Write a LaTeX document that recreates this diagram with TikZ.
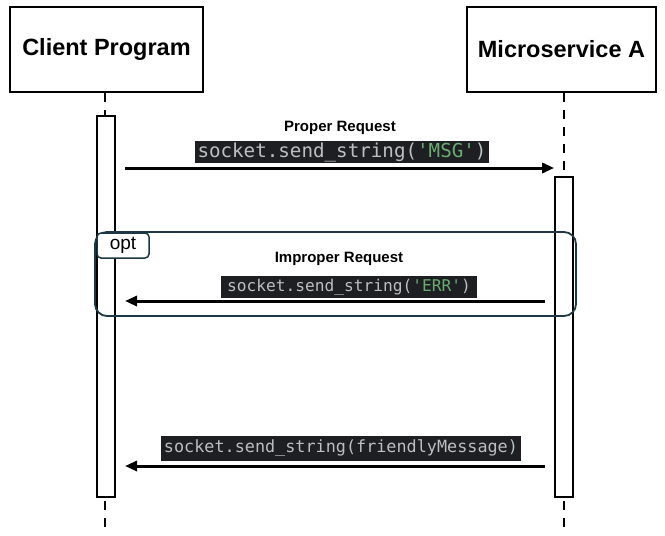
\documentclass[tikz,border=0pt]{standalone}
\usepackage{fontspec}
\setmainfont{Liberation Sans}
\setmonofont{DejaVu Sans Mono}
\usetikzlibrary{arrows.meta}
\definecolor{codebg}{HTML}{1E1F22}
\definecolor{codefg}{HTML}{BCBEC4}
\definecolor{codegreen}{HTML}{6AAB73}
\definecolor{framecol}{HTML}{1C3842}
\tikzset{
  actor/.style={draw=black, line width=2.5pt, minimum width=193pt, minimum height=85pt, font=\fontsize{23.5}{27}\selectfont\bfseries},
  lifeline/.style={draw=black, line width=1.6pt, dash pattern=on 9pt off 8pt},
  activation/.style={draw=black, fill=white, line width=1.6pt, minimum width=18pt, inner sep=0pt},
  msg/.style={line width=3pt, -{Triangle[length=12pt,width=10pt]}},
  label/.style={font=\fontsize{15}{17}\selectfont\bfseries},
  codebox/.style={fill=codebg, text=codefg, inner sep=0pt, font=\ttfamily},
}
\begin{document}
\begin{tikzpicture}[x=1pt,y=-1pt]
\useasboundingbox (0,0) rectangle (665,536);
% actors
\node[actor] (client) at (106.5,49.5) {Client Program};
\node[actor, minimum width=189pt] (svc) at (561.5,49.5) {Microservice A};
% lifeline ends
\coordinate (cEnd) at (105,530);
\coordinate (sEnd) at (564,530);
\draw[lifeline] (client.south -| cEnd) -- (cEnd);
\draw[lifeline] (svc.south -| sEnd) -- (sEnd);
% activations
\node[activation, minimum height=381pt] (cAct) at (106,306.5) {};
\node[activation, minimum height=320pt] (sAct) at (564,337) {};
% opt frame
\node[draw=framecol, line width=1.8pt, rounded corners=12pt, minimum width=481pt, minimum height=84pt, inner sep=0pt] (frame) at (335.5,274) {};
\node[draw=framecol, fill=white, line width=1.5pt, rounded corners=4pt, minimum width=52pt, minimum height=25pt, inner sep=0pt, font=\fontsize{19}{21}\selectfont] (optlbl) at (123,245.5) {opt};
% message 1
\node[label] (l1) at (340,128) {Proper Request};
\node[codebox, minimum width=294pt, minimum height=22pt, font=\ttfamily\fontsize{19.2}{22}\selectfont] (c1) at (342,152) {socket.send\_string(\textcolor{codegreen}{'MSG'})};
\coordinate (m1s) at (125,168);
\coordinate (m1e) at (sAct.west |- m1s);
\draw[msg] (m1s) -- (m1e);
% message 2
\node[label] (l2) at (339,259) {Improper Request};
\node[codebox, minimum width=256pt, minimum height=22pt, font=\ttfamily\fontsize{16.2}{20}\selectfont] (c2) at (349,287) {socket.send\_string(\textcolor{codegreen}{'ERR'})};
\coordinate (m2s) at (545,301);
\coordinate (m2e) at (125,301);
\draw[msg] (m2s) -- (m2e);
% message 3
\node[codebox, minimum width=360pt, minimum height=25pt, font=\ttfamily\fontsize{16.8}{20}\selectfont] (c3) at (341,448.5) {socket.send\_string(friendlyMessage)};
\coordinate (m3s) at (545,466);
\coordinate (m3e) at (125,466);
\draw[msg] (m3s) -- (m3e);
\end{tikzpicture}
\end{document}
